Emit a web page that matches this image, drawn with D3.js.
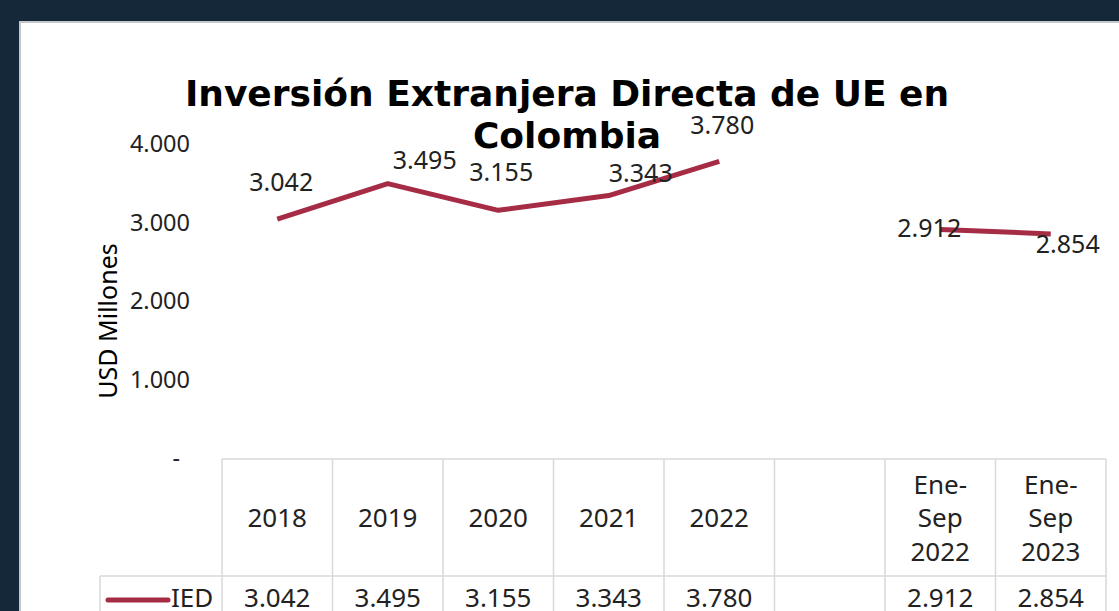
<!DOCTYPE html>
<html>
<head>
<meta charset="utf-8">
<script src="https://cdn.jsdelivr.net/npm/d3@7"></script>
<style>
  html, body { margin: 0; padding: 0; background: #14283a; }
  svg { display: block; }
</style>
</head>
<body>
<svg id="chart" width="1119" height="611"></svg>
<script>
// chart data
var categories = ['2018', '2019', '2020', '2021', '2022', '', 'Ene-Sep 2022', 'Ene-Sep 2023'];
var iedValues = [3042, 3495, 3155, 3343, 3780, null, 2912, 2854];
var yTicks = [0, 1000, 2000, 3000, 4000];
var seriesName = 'IED';
var titleLines = ['Inversión Extranjera Directa de UE en', 'Colombia'];
var yTitle = 'USD Millones';

// where each data label sits relative to its point (dx, dy)
var labelShift = [[4, -28], [37, -15], [3, -29], [32, -14], [3, -27], [0, 0], [-11, 8], [17, 19]];

var W = 1119, H = 611;
var lineColor = '#a52c44';
var gridColor = '#d9d9d9';

// spanish number format, 3.042
var es = d3.formatLocale({decimal: ',', thousands: '.', grouping: [3], currency: ['$', '']});
var fmt = es.format(',d');

var svg = d3.select('#chart');

// panel
svg.append('rect')
  .attr('x', 20).attr('y', 22)
  .attr('width', W).attr('height', H)
  .attr('fill', '#ffffff')
  .attr('stroke', '#c4c7ca')
  .attr('stroke-width', 2);

var x = d3.scaleBand()
  .domain(d3.range(categories.length))
  .range([222, 1106])
  .paddingInner(0).paddingOuter(0);

var y = d3.scaleLinear()
  .domain([0, 4000])
  .range([458, 144]);

// title
svg.append('g')
  .selectAll('text')
  .data(titleLines)
  .join('text')
    .attr('x', 567)
    .attr('y', function(d, i){ return 106 + i * 42; })
    .attr('text-anchor', 'middle')
    .attr('font-family', 'DejaVu Sans')
    .attr('font-weight', 'bold')
    .attr('font-size', 36)
    .attr('fill', '#000')
    .text(function(d){ return d; });

// y axis, labels only
var yAxis = d3.axisLeft(y)
  .tickValues(yTicks)
  .tickSize(0)
  .tickPadding(0)
  .tickFormat(function(d){ return d === 0 ? '-' : fmt(d); });

var gy = svg.append('g')
  .attr('transform', 'translate(190,0)')
  .call(yAxis);
gy.select('.domain').remove();
gy.selectAll('text')
  .attr('font-family', 'Noto Sans')
  .attr('font-size', 23.5)
  .attr('fill', '#222')
  .attr('dx', function(d){ return d === 0 ? -10 : 0; });

// y axis title
svg.append('text')
  .attr('transform', 'translate(117,321) rotate(-90)')
  .attr('text-anchor', 'middle')
  .attr('font-family', 'Noto Sans')
  .attr('font-size', 25)
  .attr('fill', '#000')
  .text(yTitle);

// line, with gap for the empty column
var line = d3.line()
  .defined(function(d){ return d != null; })
  .x(function(d, i){ return x(i) + x.bandwidth() / 2; })
  .y(function(d){ return y(d); });

svg.append('path')
  .datum(iedValues)
  .attr('d', line)
  .attr('fill', 'none')
  .attr('stroke', lineColor)
  .attr('stroke-width', 5)
  .attr('stroke-linejoin', 'round');

// data labels
var points = iedValues
  .map(function(v, i){ return {v: v, i: i}; })
  .filter(function(p){ return p.v != null; });

svg.append('g')
  .selectAll('text')
  .data(points)
  .join('text')
    .attr('x', function(p){ return x(p.i) + x.bandwidth() / 2 + labelShift[p.i][0]; })
    .attr('y', function(p){ return y(p.v) + labelShift[p.i][1]; })
    .attr('text-anchor', 'middle')
    .attr('font-family', 'Noto Sans')
    .attr('font-size', 25)
    .attr('fill', '#222')
    .text(function(p){ return fmt(p.v); });

// data table
var tTop = 459, tMid = 576, tBot = H + 20;
var tableFont = 26;
var table = svg.append('g')
  .attr('stroke', gridColor)
  .attr('stroke-width', 1.5);

table.append('line')
  .attr('x1', x(0)).attr('x2', x.range()[1])
  .attr('y1', tTop).attr('y2', tTop);
table.append('line')
  .attr('x1', 100).attr('x2', x.range()[1])
  .attr('y1', tMid).attr('y2', tMid);
table.append('line')
  .attr('x1', 100).attr('x2', 100)
  .attr('y1', tMid).attr('y2', tBot);

table.selectAll('.vline')
  .data(d3.range(categories.length + 1))
  .join('line')
    .attr('class', 'vline')
    .attr('x1', function(i){ return x.range()[0] + i * x.bandwidth(); })
    .attr('x2', function(i){ return x.range()[0] + i * x.bandwidth(); })
    .attr('y1', tTop).attr('y2', tBot);

// header cells, Ene-Sep labels wrap on three lines
function splitLabel(s){
  if (s.indexOf('-') < 0) return [s];
  var parts = s.split(' ');
  var head = parts[0].split('-');
  return [head[0] + '-', head[1]].concat(parts.slice(1));
}

var header = svg.append('g')
  .attr('font-family', 'Noto Sans')
  .attr('font-size', tableFont)
  .attr('fill', '#222')
  .attr('text-anchor', 'middle');

categories.forEach(function(c, i){
  var lines = splitLabel(c);
  var lh = 33.5;
  var mid = 527;
  var t = header.append('text')
    .attr('x', x(i) + x.bandwidth() / 2);
  lines.forEach(function(l, k){
    t.append('tspan')
      .attr('x', x(i) + x.bandwidth() / 2)
      .attr('y', mid + (k - (lines.length - 1) / 2) * lh)
      .text(l);
  });
});

// value row
svg.append('g')
  .selectAll('text')
  .data(iedValues)
  .join('text')
    .attr('x', function(d, i){ return x(i) + x.bandwidth() / 2; })
    .attr('y', 607)
    .attr('text-anchor', 'middle')
    .attr('font-family', 'Noto Sans')
    .attr('font-size', tableFont)
    .attr('fill', '#222')
    .text(function(d){ return d == null ? '' : fmt(d); });

// legend key in the first cell
svg.append('line')
  .attr('x1', 108).attr('x2', 168)
  .attr('y1', 600).attr('y2', 600)
  .attr('stroke', lineColor)
  .attr('stroke-width', 5)
  .attr('stroke-linecap', 'round');
svg.append('text')
  .attr('x', 171).attr('y', 607)
  .attr('font-family', 'Noto Sans')
  .attr('font-size', tableFont)
  .attr('fill', '#222')
  .text(seriesName);
</script>
</body>
</html>
